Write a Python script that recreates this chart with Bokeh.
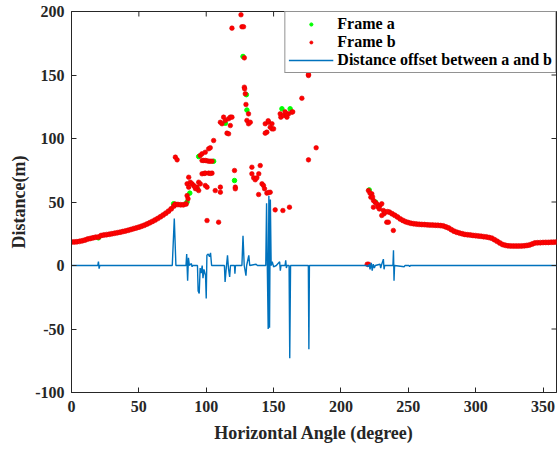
import math
from bokeh.plotting import figure
from bokeh.models import Range1d, FixedTicker, Legend, LegendItem
from bokeh.embed import file_html
from bokeh.resources import INLINE

# ---------------- data ----------------
x_min, x_max = 0, 360
y_min, y_max = -100, 200
x_ticks = [0, 50, 100, 150, 200, 250, 300, 350]
y_ticks = [-100, -50, 0, 50, 100, 150, 200]

# Frame b : smooth near-range parts
b_left_x = [0, 2, 4, 6, 8, 10, 12, 14, 16, 18, 20, 22, 24, 26, 28, 30, 32, 34, 36, 38,
            40, 42, 44, 46, 48, 50, 52, 54, 56, 58, 60, 62, 64, 66, 68, 70, 72, 74, 76,
            77, 79, 81, 83, 85]
b_left_y = [18.5, 18.6, 18.7, 19.0, 19.5, 20.0, 20.8, 21.3, 21.8, 22.3, 22.4, 23.6, 24.0,
            24.3, 24.6, 25.0, 25.4, 25.8, 26.2, 26.7, 27.2, 27.7, 28.3, 29.0, 29.6, 30.2,
            30.9, 31.7, 32.6, 33.6, 34.7, 35.8, 37.0, 38.3, 39.7, 41.2, 42.8, 44.6, 46.8,
            48.2, 48.0, 47.8, 47.8, 48.5]

b_right_x = [236, 238, 240, 242, 244, 246, 248, 250, 252, 254, 256, 258, 260, 262, 264,
             266, 268, 270, 272, 274, 276, 278, 280, 282, 284, 286, 288, 290, 292, 294,
             296, 298, 300, 302, 304, 306, 308, 310, 312, 314, 316, 318, 320, 322, 324,
             326, 328, 330, 332, 334, 336, 338, 340, 342, 344, 346, 348, 350, 352, 354,
             356, 358, 360]
b_right_y = [42.0, 40.7, 39.5, 38.2, 36.7, 35.5, 34.5, 33.8, 33.2, 32.9, 32.6, 32.4, 32.3,
             32.2, 32.0, 31.9, 31.8, 31.7, 31.6, 31.4, 31.2, 30.4, 29.5, 28.2, 27.0, 26.2,
             25.5, 25.0, 24.5, 24.2, 24.0, 23.7, 23.5, 23.2, 23.0, 22.7, 22.5, 22.0, 21.5,
             20.3, 19.0, 17.7, 16.5, 15.9, 15.5, 15.4, 15.3, 15.3, 15.3, 15.4, 15.5, 15.8,
             16.2, 17.0, 17.8, 17.9, 18.0, 18.1, 18.2, 18.2, 18.3, 18.4, 18.5]

# Frame b : scattered returns
b_scat_x = [77.1, 78.4, 85.8, 86.5, 85.8, 87.0, 87.0,
            88.2, 89.5, 90.7, 93.2, 94.4, 95.6, 94.4, 99.3, 100.6, 92.0, 91.5,
            96.9, 98.5, 99.3, 101.8, 104.3, 103.0,
            96.9, 98.0, 99.3, 100.5, 101.8, 103.0, 104.3,
            95.6, 96.9, 99.3, 101.8, 103.0, 105.5,
            106.7, 110.5, 110.5, 100.6, 109.2,
            110.5, 111.7, 112.9, 114.2, 116.6, 117.9, 119.1, 117.9, 115.4, 116.6,
            121.0, 121.6, 121.6,
            119.1, 125.8, 126.5, 127.7, 128.3, 128.3, 128.5, 129.0, 129.5, 131.4, 130.2,
            131.4, 132.7,
            133.9, 140.1, 133.9, 135.2, 136.4, 137.6, 139.0,
            141.4, 142.5, 143.3, 138.9, 145.0, 147.5, 146.3,
            151.2, 156.9, 161.8,
            143.8, 146.3, 148.8, 147.5, 148.8, 150.0, 145.0, 143.8, 146.0,
            154.9, 155.4, 157.4, 159.9, 161.1, 163.6, 159.4, 164.2, 158.5,
            171.0, 175.9, 175.9, 175.9, 181.6,
            220.4, 222.9, 222.2, 224.1, 225.4, 224.1, 226.6, 229.0, 230.3, 231.5, 232.0,
            234.0, 235.2, 230.3, 238.9, 221.5, 223.5, 227.5, 228.5, 233.0, 234.5,
            219.5, 220.5]
b_scat_y = [85.3, 83.2, 55.0, 52.5, 64.3, 61.7, 69.5,
            65.6, 64.3, 63.0, 61.7, 65.6, 64.3, 59.0, 63.0, 61.7, 60.5, 62.0,
            72.2, 72.5, 72.7, 72.7, 72.7, 72.5,
            82.7, 82.7, 82.7, 82.5, 82.1, 82.1, 82.1,
            86.6, 88.0, 89.2, 91.9, 92.7, 98.4,
            59.0, 61.7, 57.7, 35.4, 34.1,
            112.8, 111.6, 116.8, 114.2, 115.5, 116.8, 116.8, 110.2, 104.2, 103.7,
            74.8, 61.7, 60.4,
            186.9, 197.4, 188.0, 188.0, 163.5, 140.4, 139.1, 135.2, 126.8, 119.4, 114.2,
            111.6, 112.8,
            77.4, 78.7, 72.2, 69.0, 67.5, 69.0, 72.2,
            64.3, 63.0, 60.4, 55.9, 57.0, 57.7, 57.5,
            43.8, 43.3, 45.9,
            111.6, 112.8, 111.6, 108.9, 107.6, 107.6, 105.0, 104.2, 114.0,
            119.4, 116.8, 118.1, 116.8, 119.4, 120.7, 119.4, 121.0, 121.0,
            131.7, 149.6, 150.5, 83.2, 92.7,
            59.0, 56.4, 53.8, 51.2, 49.8, 45.9, 48.6, 47.2, 48.6, 43.3, 40.7,
            34.1, 34.1, 39.4, 27.6, 57.0, 54.0, 46.0, 44.5, 42.0, 42.5,
            1.0, 1.0]

# Frame a : returns visible where they differ from frame b
a_x = [20.0, 75.8, 85.8, 93.4, 94.4, 105.5, 114.2, 121.0, 127.3, 130.2, 129.8, 156.2,
       162.3, 221.0, 225.6, 87.8]
a_y = [21.8, 48.6, 50.0, 60.3, 85.8, 82.1, 112.0, 66.9, 164.6, 122.4, 134.5, 123.4,
       123.4, 59.5, 50.0, 57.0]

# distance offset between a and b
off_x = [0, 19.5, 20.0, 20.5, 21.0, 74.8, 76.3, 77.5, 85.0, 85.5, 86.2, 86.8, 87.5, 89.0,
         89.5, 90.0, 93.5, 94.0, 94.8, 95.5, 96.2, 97.0, 97.6, 98.3, 99.5, 100.0, 100.5,
         101.5, 102.5, 103.2, 104.0, 113.5, 114.0, 114.8, 115.8, 116.5, 117.4, 118.0,
         121.0, 121.3, 121.7, 126.5, 127.3, 128.2, 129.5, 130.0, 131.6, 132.3, 137.0,
         138.0, 144.2, 144.8, 145.4, 146.0, 146.5, 147.0, 147.6, 148.2, 149.0, 150.0,
         152.0, 154.5, 155.0, 155.5, 158.5, 159.0, 159.5, 160.0, 161.5, 162.0, 162.6,
         175.8, 176.2, 176.6, 219.0, 220.0, 221.0, 221.6, 222.5, 223.2, 224.0, 224.8,
         225.5, 229.0, 229.5, 230.0, 231.5, 232.0, 232.5, 238.6, 239.0, 239.4, 239.8,
         247.0, 247.5, 250.5, 251.0, 251.5, 360]
off_y = [0, 0, 3, -2.5, 0, 0, 37, 0, 0, 9, -12, 6, 0, 1.5,
         -1, 0, 0, -20, -22, -2, -6, 0, -10, -3, -8, -26, 8,
         9, 7, 10, 0, 0, -13, -3, 8, -2, -9, 0,
         0, -6.5, 0, 0, 23.5, 0, -8, 0, 8, 0, 1,
         0, 0, 49, -5, -50, 55, -49, 52, 0, 3, -1,
         0, 3, -4, 0, 0, 4, -2, 0, 0, -73, 0,
         0, -66, 0, 0, -1, 1, -3, 2, -4, 1, -2,
         0, 1, -2, 0, 5, -3, 0, 0, 12, -12, 0,
         -1, 0, 0, -1, 0, 0]

# ---------------- figure ----------------
FONT = "Liberation Serif"
AX = "#262626"

p = figure(width=558, height=449, output_backend="svg", toolbar_location=None,
           x_range=Range1d(x_min, x_max), y_range=Range1d(y_min, y_max),
           min_border_left=71, min_border_right=2, min_border_top=11, min_border_bottom=57)
p.grid.visible = False
p.outline_line_color = AX
p.outline_line_width = 1
p.background_fill_color = "white"
p.border_fill_color = "white"

ra = p.scatter(a_x, a_y, size=4.5, fill_color="#00FF00", line_color="#00FF00")
rb1 = p.scatter(b_left_x, b_left_y, size=5, fill_color="#FF0000", line_color="#E00000", line_width=0.6)
p.scatter(b_right_x, b_right_y, size=5, fill_color="#FF0000", line_color="#E00000", line_width=0.6)
p.scatter(b_scat_x, b_scat_y, size=4.6, fill_color="#FF0000", line_color="#E00000", line_width=0.6)
rl = p.line(off_x, off_y, line_color="#0072BD", line_width=1.4)

# inward tick marks on the top and right edges of the box (MATLAB "box on")
p.scatter(x_ticks, [y_max] * len(x_ticks), marker="dash", angle=math.pi / 2, size=10,
          line_color=AX, line_width=1)
p.scatter([x_max] * len(y_ticks), y_ticks, marker="dash", size=10,
          line_color=AX, line_width=1)

for ax in (p.xaxis[0], p.yaxis[0]):
    ax.major_tick_in = 5
    ax.major_tick_out = 0
    ax.minor_tick_in = 0
    ax.minor_tick_out = 0
    ax.axis_line_color = AX
    ax.major_tick_line_color = AX
    ax.major_label_text_font = FONT
    ax.major_label_text_font_style = "bold"
    ax.major_label_text_font_size = "16px"
    ax.major_label_text_color = AX
    ax.axis_label_text_font = FONT
    ax.axis_label_text_font_style = "bold"
    ax.axis_label_text_font_size = "18px"
    ax.axis_label_text_color = AX

p.xaxis[0].ticker = FixedTicker(ticks=x_ticks)
p.yaxis[0].ticker = FixedTicker(ticks=y_ticks)
p.yaxis[0].major_label_overrides = {t: str(t) for t in y_ticks}
p.xaxis[0].major_label_overrides = {t: str(t) for t in x_ticks}
p.xaxis[0].axis_label = "Horizontal Angle (degree)"
p.yaxis[0].axis_label = "Distance(m)"
p.xaxis[0].major_label_standoff = 8
p.yaxis[0].major_label_standoff = 7
p.xaxis[0].axis_label_standoff = 8
p.yaxis[0].axis_label_standoff = 3

legend = Legend(items=[LegendItem(label="Frame a", renderers=[ra]),
                       LegendItem(label="Frame b", renderers=[rb1]),
                       LegendItem(label="Distance offset between a and b", renderers=[rl])],
                location="top_right")
legend.margin = 0
legend.padding = 3
legend.spacing = 0
legend.label_height = 18
legend.glyph_height = 8
legend.glyph_width = 45
legend.label_standoff = 4
legend.label_text_font = FONT
legend.label_text_font_style = "bold"
legend.label_text_font_size = "16px"
legend.label_text_color = "black"
legend.border_line_color = AX
legend.border_line_width = 1
legend.background_fill_color = "white"
legend.background_fill_alpha = 1
p.add_layout(legend)

open("out.html", "w").write(file_html(p, INLINE))
